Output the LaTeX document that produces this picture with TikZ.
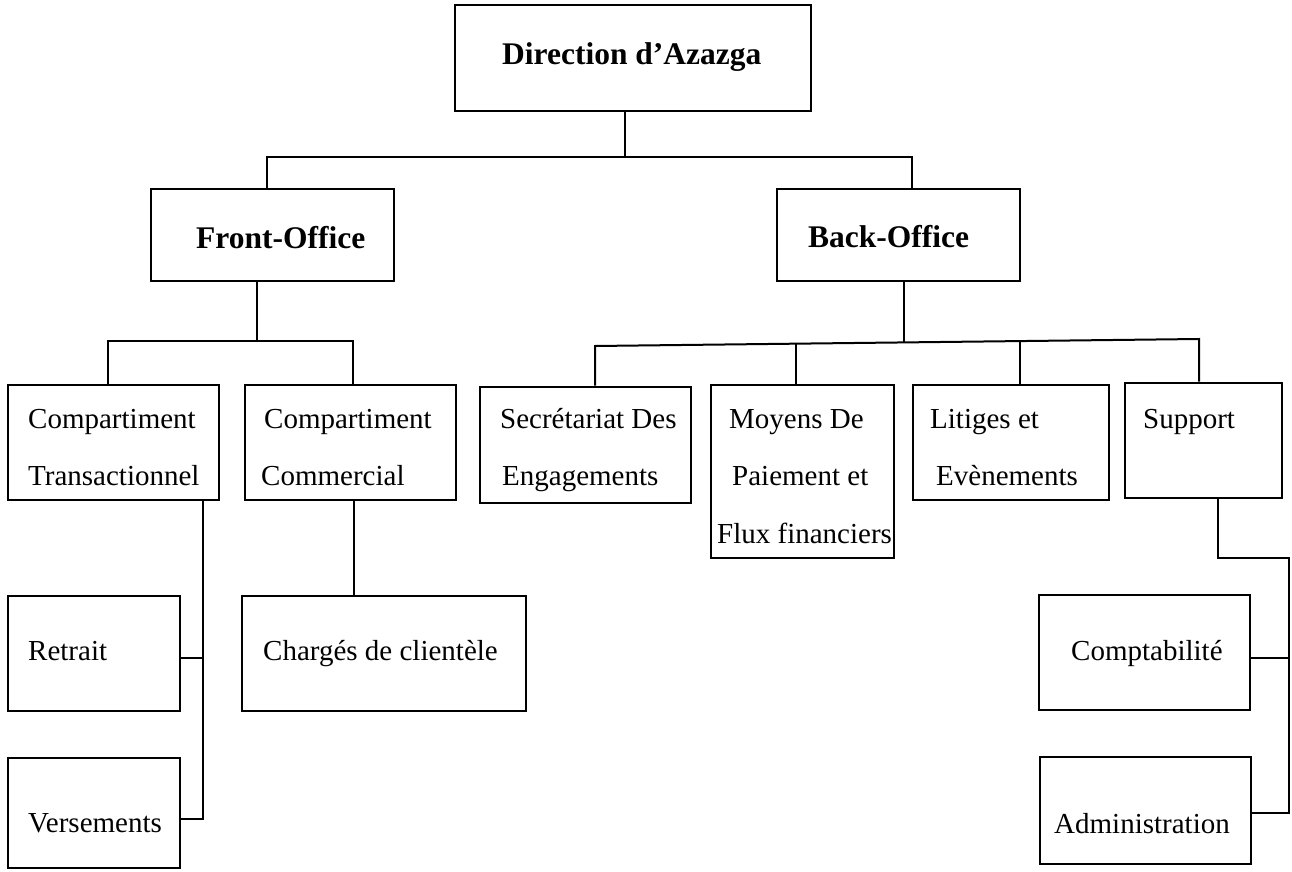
\documentclass[tikz,border=0pt]{standalone}
\usepackage{fontspec}
\setmainfont{Liberation Serif}
\begin{document}
\begin{tikzpicture}[x=1pt,y=-1pt,
  boxst/.style={draw, line width=2.8pt, rectangle, inner sep=0pt},
  conn/.style={line width=2pt},
  txt/.style={anchor=base west, inner sep=0pt, font=\fontsize{29}{34}\selectfont},
  btxt/.style={anchor=base west, inner sep=0pt, font=\fontsize{31.5}{36}\selectfont\bfseries}]
\useasboundingbox (0,0) rectangle (1292,872);
% boxes: center (x,y), width, height
\newcommand{\mybox}[5]{\node[boxst, minimum width=#4pt, minimum height=#5pt] (#1) at (#2,#3) {};}
\mybox{dir}{633}{58}{356}{106}
\mybox{fo}{272.5}{235}{243}{92}
\mybox{bo}{898.5}{235}{243}{92}
\mybox{ct}{113.5}{442.5}{211}{115}
\mybox{cc}{350.5}{442.5}{211}{115}
\mybox{sec}{585.5}{445}{211}{116}
\mybox{moy}{802.5}{471.5}{183}{173}
\mybox{lit}{1011}{442.5}{196}{115}
\mybox{sup}{1203.5}{440.5}{157}{115}
\mybox{ret}{94}{653.5}{172}{115}
\mybox{ver}{94}{813}{172}{110}
\mybox{cha}{384}{653.5}{284}{115}
\mybox{cpt}{1144.5}{652.5}{211}{115}
\mybox{adm}{1145.5}{810.5}{211}{107}
% texts
\node[btxt] (t-dir) at (502,65) {Direction d’Azazga};
\node[btxt] (t-fo) at (196,248) {Front-Office};
\node[btxt] (t-bo) at (808,247) {Back-Office};
\node[txt] (t-ct1) at (28,428) {Compartiment};
\node[txt] (t-ct2) at (28,485) {Transactionnel};
\node[txt] (t-cc1) at (264,428) {Compartiment};
\node[txt] (t-cc2) at (261,485) {Commercial};
\node[txt] (t-sec1) at (500,428) {Secrétariat Des};
\node[txt] (t-sec2) at (502,485) {Engagements};
\node[txt] (t-moy1) at (729,428) {Moyens De};
\node[txt] (t-moy2) at (732,485) {Paiement et};
\node[txt] (t-moy3) at (717,543) {Flux financiers};
\node[txt] (t-lit1) at (930,428) {Litiges et};
\node[txt] (t-lit2) at (936,485) {Evènements};
\node[txt] (t-sup) at (1143,428) {Support};
\node[txt] (t-ret) at (28,660) {Retrait};
\node[txt] (t-ver) at (28,832) {Versements};
\node[txt] (t-cha) at (263,660) {Chargés de clientèle};
\node[txt] (t-cpt) at (1071,660) {Comptabilité};
\node[txt] (t-adm) at (1054,833) {Administration};
% top level connectors
\coordinate (j0) at (625,157);
\coordinate (jl) at (267,157);
\coordinate (jr) at (912,157);
\draw[conn] (dir.south -| j0) -- (j0);
\draw[conn] (fo.north -| jl) -- (jl) -- (jr) -- (bo.north -| jr);
% front office
\coordinate (f0) at (257,341);
\coordinate (fl) at (108,341);
\coordinate (fr) at (353,341);
\draw[conn] (fo.south -| f0) -- (f0);
\draw[conn] (ct.north -| fl) -- (fl) -- (fr) -- (cc.north -| fr);
% back office
\coordinate (b0) at (904,342);
\coordinate (b1) at (595,346);
\coordinate (b2) at (796,344);
\coordinate (b3) at (1020,341);
\coordinate (b4) at (1199,339);
\draw[conn] (bo.south -| b0) -- (b0);
\draw[conn] (sec.north -| b1) -- (b1) -- (b4) -- (sup.north -| b4);
\draw[conn] (b2) -- (moy.north -| b2);
\draw[conn] (b3) -- (lit.north -| b3);
% transactionnel
\coordinate (t0) at (203,819);
\coordinate (t1) at (203,658);
\draw[conn] (ct.south -| t0) -- (t0) -- (ver.east |- t0);
\draw[conn] (ret.east |- t1) -- (t1);
% commercial
\coordinate (c0) at (354,500);
\draw[conn] (cc.south -| c0) -- (cha.north -| c0);
% support
\coordinate (s0) at (1218,558);
\coordinate (s1) at (1289,558);
\coordinate (s2) at (1289,813);
\coordinate (s3) at (1289,658);
\draw[conn] (sup.south -| s0) -- (s0) -- (s1) -- (s2) -- (adm.east |- s2);
\draw[conn] (cpt.east |- s3) -- (s3);
\end{tikzpicture}
\end{document}
